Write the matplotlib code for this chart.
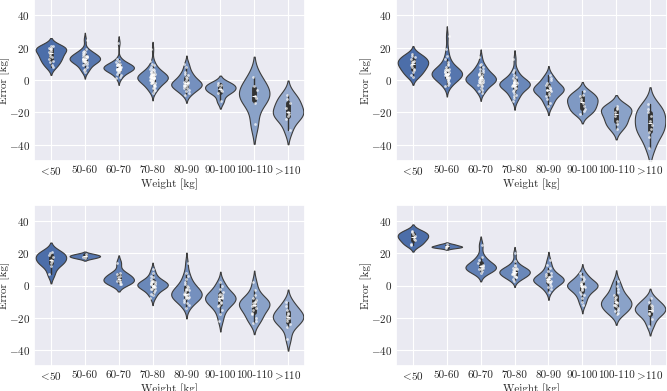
import numpy as np
import pandas as pd
import matplotlib
matplotlib.use('Agg')
import matplotlib.pyplot as plt
import seaborn as sns

cats = ['<50', '50-60', '60-70', '70-80', '80-90', '90-100', '100-110', '>110']
tick_labels = [r'$\!<\!$50', '50-60', '60-70', '70-80', '80-90', '90-100', '100-110', r'$\!>\!$110']

# error values per weight class, one list per class
err_a = [
    [21, 20, 20, 19, 19, 18, 17, 16, 15, 14, 13, 12, 11, 9, 8, 21],
    [25, 19, 18, 17, 17, 16, 16, 15, 15, 14, 14, 14, 13, 13, 13, 12, 12, 12, 11, 11, 10, 10, 9, 8, 7, 6, 5, 15, 13, 12],
    [23, 13, 12, 11, 10, 10, 9, 9, 9, 8, 8, 8, 7, 7, 7, 7, 6, 6, 6, 5, 5, 4, 3, 2, 1, 8, 9, 6, 7, 10],
    [19, 12, 10, 9, 8, 7, 7, 6, 6, 5, 5, 5, 4, 4, 4, 3, 3, 3, 3, 2, 2, 2, 2, 1, 1, 1, 1, 0, 0, 0, 0,
     -1, -1, -1, -2, -2, -2, -3, -3, -4, -4, -5, -5, -6, -7, -8, 3, 2, 1, 0],
    [10, 8, 5, 4, 3, 2, 1, 0, -1, -1, -2, -2, -3, -3, -4, -4, -5, -5, -6, -7, -8, -9, -3, -2],
    [-2, -3, -3, -5, -6, -7, -8, -13],
    [2, -4, -6, -10, -11, -14, -27],
    [-9, -12, -14, -17, -20, -21, -22, -24, -31],
]
err_b = [
    [16, 15, 14, 13, 12, 11, 11, 10, 9, 8, 7, 6, 5, 3, 2],
    [27, 19, 15, 13, 11, 10, 9, 8, 7, 7, 6, 6, 5, 5, 5, 4, 4, 4, 3, 3, 3, 2, 2, 1, 1, 0, 0, -1, -2, -3, -4, 6, 4, 2],
    [14, 10, 9, 8, 7, 6, 5, 5, 4, 4, 3, 3, 2, 2, 1, 1, 0, 0, 0, -1, -1, -2, -2, -3, -3, -4, -5, -6, -7, -8, 1, 0, -1, 2],
    [13, 6, 5, 3, 2, 1, 0, 0, -1, -1, -2, -2, -3, -3, -3, -4, -4, -5, -5, -6, -7, -8, -9, -10, -11, -13, -2, -3, -4, -1],
    [3, 1, 0, -2, -3, -4, -5, -6, -6, -7, -8, -9, -10, -12, -14, -16, -6, -5],
    [-7, -9, -10, -12, -13, -14, -16, -18, -19, -21],
    [-16, -17, -18, -20, -22, -25, -27, -30],
    [-15, -18, -20, -22, -25, -28, -30, -32, -35, -42],
]
err_c = [
    [21, 20, 19, 18, 16, 15, 14, 12, 7],
    [19.5, 18.5, 18, 17],
    [14, 8, 7, 6, 5, 4, 3, 3, 2, 1, 1],
    [10, 8, 6, 5, 4, 3, 2, 2, 1, 1, 0, 0, 0, -1, -1, -2, -2, -3, -4, -5, -6, -8, 1, 0, -1, 2, 3],
    [14, 8, 6, 4, 2, 1, 0, -1, -2, -3, -4, -5, -5, -6, -6, -7, -7, -8, -8, -9, -10, -11, -12, -14, -3, -5, -7, -2],
    [2, 0, -2, -4, -5, -6, -7, -8, -8, -9, -10, -11, -12, -13, -15, -18, -22, -6, -9],
    [2, -3, -6, -8, -9, -10, -11, -12, -13, -14, -15, -17, -18, -20, -22, -23, -10, -12],
    [-10, -13, -15, -17, -18, -19, -20, -21, -22, -24, -26, -33],
]
err_d = [
    [34, 33, 32, 31, 30, 29, 28, 26, 25],
    [25.5, 24.5, 24, 23.5],
    [25, 18, 16, 14, 13, 12, 12, 11, 11, 10, 10, 9, 8],
    [20, 15, 13, 12, 11, 11, 10, 10, 9, 9, 8, 8, 8, 7, 7, 6, 6, 5, 5, 4, 3, 9, 10, 7],
    [16, 13, 11, 9, 8, 7, 6, 5, 5, 4, 4, 3, 3, 2, 2, 1, 0, -1, -2, -4, 3, 4, 6, 2],
    [8, 6, 5, 4, 3, 2, 1, 1, 0, 0, -1, -1, -2, -3, -4, -5, -6, -8, -10, -12, 0, 1, -1],
    [3, 0, -2, -4, -6, -7, -8, -9, -10, -11, -12, -13, -14, -15, -16, -17, -18, -10, -12],
    [-8, -10, -12, -13, -14, -15, -16, -17, -18, -21, -25],
]

colors = ['#4c6ea9', '#5676ae', '#607fb4', '#6a88b9', '#7590be', '#7f99c3', '#8aa2c8', '#96aacd']

sns.set_theme(style='darkgrid')
plt.rcParams['font.family'] = 'serif'
plt.rcParams['font.serif'] = ['cmr10']
plt.rcParams['mathtext.fontset'] = 'cm'
plt.rcParams['axes.formatter.use_mathtext'] = True
fs = 8

fig = plt.figure(figsize=(6.67, 3.91), dpi=100)
W, H = 667, 391
# axes boxes in pixels: left, top, width, height
boxes = [(34, -1, 271, 162), (396, -1, 271, 162), (34, 205, 271, 161), (396, 205, 271, 161)]

for box, errs in zip(boxes, [err_a, err_b, err_c, err_d]):
    l, t, w, h = box
    ax = fig.add_axes([l / W, (H - t - h) / H, w / W, h / H])
    rows = [(c, v) for c, vals in zip(cats, errs) for v in vals]
    df = pd.DataFrame(rows, columns=['weight', 'error'])
    sns.violinplot(data=df, x='weight', y='error', hue='weight', order=cats, hue_order=cats,
                   palette=colors, legend=False, density_norm='width', width=0.9,
                   saturation=1, linewidth=0.8, linecolor='#3c3c3c', inner='box',
                   inner_kws=dict(box_width=3.5, whis_width=1, color='#333333'), ax=ax)
    sns.stripplot(data=df, x='weight', y='error', order=cats, color='white', size=2,
                  jitter=0.07, alpha=0.7, linewidth=0, ax=ax)
    ax.set_ylim(-50, 50)
    ax.set_yticks([-40, -20, 0, 20, 40])
    ax.set_xticks(range(len(cats)))
    ax.set_xticklabels(tick_labels)
    ax.set_xlabel('Weight [kg]', fontsize=fs, labelpad=1)
    ax.set_ylabel('Error [kg]', fontsize=fs)
    ax.yaxis.set_label_coords(-0.088, 0.5)
    ax.tick_params(labelsize=fs, length=0, pad=3)
    ax.grid(True, axis='both', color='white', linewidth=0.8)
    ax.set_axisbelow(True)

fig.savefig('out.png', dpi=100)
